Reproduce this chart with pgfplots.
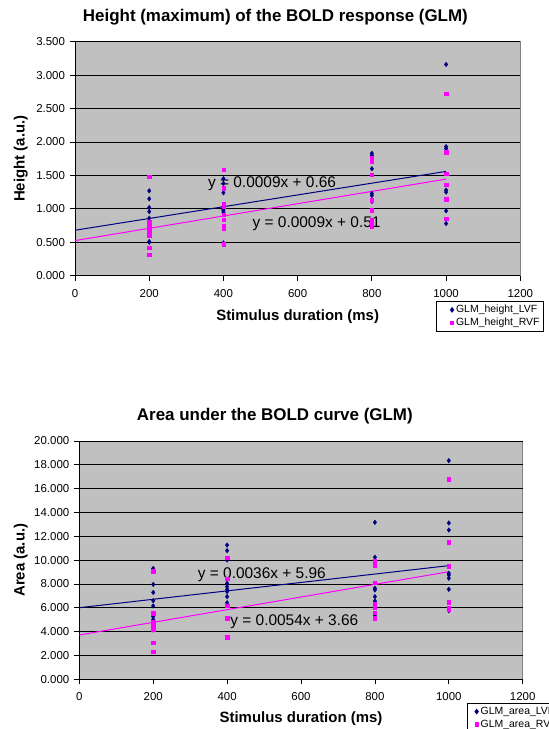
\documentclass[border=0pt]{standalone}
\usepackage{pgfplots}
\pgfplotsset{compat=1.18}
\usepackage{fontspec}
\setmainfont{Liberation Sans}
\definecolor{xlnavy}{RGB}{0,0,128}
\definecolor{xlmag}{RGB}{255,0,255}
\definecolor{xlgray}{RGB}{192,192,192}
\definecolor{xlborder}{RGB}{128,128,128}

\pgfplotsset{xlstyle/.style={
  scale only axis,
  axis background/.style={fill=xlgray, draw=xlborder, line width=0.9bp},
  axis x line*=bottom, axis y line*=left,
  axis line style={black, line width=0.8bp, -},
  every outer x axis line/.append style={-},
  every outer y axis line/.append style={-},
  xmin=0, xmax=1200, xtick={0,200,...,1200},
  tick align=outside, major tick length=5bp, tick style={black, line width=0.8bp},
  ymajorgrids, grid style={black, line width=0.8bp},
  /pgf/number format/assume math mode=true,
  ticklabel style={font=\fontsize{11.5}{13}\selectfont},
  xticklabel style={/pgf/number format/set thousands separator={}, yshift=-5bp},
  yticklabel style={/pgf/number format/fixed, /pgf/number format/fixed zerofill, /pgf/number format/precision=3, xshift=-1.5bp},
  title style={font=\fontsize{17}{20}\selectfont\bfseries, anchor=center, yshift=0pt},
  every axis y label/.style={rotate=90, anchor=center, font=\fontsize{15}{18}\selectfont\bfseries},
  every axis x label/.style={anchor=center, font=\fontsize{15}{18}\selectfont\bfseries},
  legend style={font=\fontsize{10.5}{12}\selectfont, draw=black, fill=white, line width=0.8bp, inner sep=1.5bp, row sep=0bp, anchor=north west},
  legend cell align=left,
  clip=false,
}}

\pgfplotstableread{
x y
200 1.27
200 1.15
200 1.02
200 0.96
200 0.86
200 0.79
200 0.70
200 0.51
200 0.50
400 1.45
400 1.38
400 1.24
400 1.03
400 0.99
400 0.97
400 0.95
400 0.49
800 1.83
800 1.80
800 1.60
800 1.23
800 1.20
800 1.11
800 0.98
800 0.83
800 0.75
1000 3.16
1000 1.93
1000 1.90
1000 1.28
1000 1.25
1000 0.97
1000 0.78
}\heightLVF

\pgfplotstableread{
x y
200 1.48
200 0.80
200 0.77
200 0.72
200 0.67
200 0.63
200 0.60
200 0.42
200 0.31
400 1.59
400 1.31
400 1.08
400 1.04
400 0.91
400 0.84
400 0.75
400 0.71
400 0.47
800 1.76
800 1.71
800 1.51
800 1.13
800 0.98
800 0.83
800 0.78
800 0.74
1000 2.72
1000 1.85
1000 1.53
1000 1.36
1000 1.15
1000 1.14
1000 0.85
}\heightRVF

\pgfplotstableread{
x y
200 9.30
200 7.96
200 7.29
200 6.60
200 6.16
200 5.25
200 5.00
200 4.60
200 4.14
400 11.27
400 10.80
400 10.01
400 8.06
400 7.78
400 7.55
400 7.36
400 6.94
400 6.43
800 13.17
800 10.24
800 9.68
800 7.64
800 7.50
800 6.94
800 6.57
800 6.10
800 5.31
1000 18.35
1000 13.12
1000 12.53
1000 8.90
1000 8.75
1000 8.48
1000 7.55
1000 5.76
}\areaLVF

\pgfplotstableread{
x y
200 9.07
200 5.54
200 4.80
200 4.42
200 4.18
200 3.08
200 2.30
400 10.20
400 8.45
400 6.18
400 5.14
400 3.55
800 9.90
800 9.59
800 8.13
800 6.32
800 6.06
800 5.60
800 5.12
1000 16.78
1000 11.50
1000 9.50
1000 6.46
1000 6.00
1000 5.90
}\areaRVF

\begin{document}
\begin{tikzpicture}
\useasboundingbox (0,0) rectangle (549bp,-729bp);

% ---------- top chart ----------
\begin{axis}[xlstyle,
  at={(75bp,-275.7bp)}, anchor=south west,
  width=445.3bp, height=234bp,
  ymin=0, ymax=3.5, ytick={0,0.5,...,3.5},
  title={Height (maximum) of the BOLD response (GLM)},
  title style={at={(axis description cs:0.450,1.081)}},
  xlabel={Stimulus duration (ms)},
  xlabel style={at={(axis description cs:0.5,-0.175)}},
  ylabel={Height (a.u.)},
  ylabel style={at={(axis description cs:-0.122,0.5)}},
  legend style={at={(0.81,-0.110)}},
  legend image code/.code={\pgfpathrectangle{\pgfqpoint{-14.5bp}{-1bp}}{\pgfqpoint{16.5bp}{2bp}}\pgfusepath{discard}\draw[#1] plot coordinates {(0bp,0bp)};},
]
\addplot[only marks, mark=diamond*, mark size=2.3bp, color=xlnavy] table {\heightLVF};
\addlegendentry{GLM\_height\_LVF}
\addplot[only marks, mark=square*, mark size=1.7bp, color=xlmag] table {\heightRVF};
\addlegendentry{GLM\_height\_RVF}
\addplot[xlnavy, line width=1bp, forget plot] coordinates {(0,0.68) (1000,1.56)};
\addplot[xlmag, line width=1bp, forget plot] coordinates {(0,0.525) (1000,1.445)};
\node[font=\fontsize{15.5}{18}\selectfont] at (axis cs:531,1.381) {y = 0.0009x + 0.66};
\node[font=\fontsize{15.5}{18}\selectfont] at (axis cs:651,0.783) {y = 0.0009x + 0.51};
\end{axis}

% ---------- bottom chart ----------
\begin{axis}[xlstyle,
  at={(79.3bp,-679.3bp)}, anchor=south west,
  width=443.4bp, height=238.3bp,
  ymin=0, ymax=20, ytick={0,2,...,20},
  title={Area under the BOLD curve (GLM)},
  title style={at={(axis description cs:0.441,1.081)}},
  xlabel={Stimulus duration (ms)},
  xlabel style={at={(axis description cs:0.5,-0.1666)}},
  ylabel={Area (a.u.)},
  ylabel style={at={(axis description cs:-0.132,0.5)}},
  legend style={at={(0.875,-0.1007)}},
  legend image code/.code={\pgfpathrectangle{\pgfqpoint{-7.5bp}{-1bp}}{\pgfqpoint{9.5bp}{2bp}}\pgfusepath{discard}\draw[#1] plot coordinates {(0bp,0bp)};},
]
\addplot[only marks, mark=diamond*, mark size=2.3bp, color=xlnavy] table {\areaLVF};
\addlegendentry{GLM\_area\_LVF}
\addplot[only marks, mark=square*, mark size=1.7bp, color=xlmag] table {\areaRVF};
\addlegendentry{GLM\_area\_RVF}
\addplot[xlnavy, line width=1bp, forget plot] coordinates {(0,6.01) (1000,9.54)};
\addplot[xlmag, line width=1bp, forget plot] coordinates {(0,3.72) (1000,9.03)};
\node[font=\fontsize{15.5}{18}\selectfont] at (axis cs:494,8.75) {y = 0.0036x + 5.96};
\node[font=\fontsize{15.5}{18}\selectfont] at (axis cs:582,4.83) {y = 0.0054x + 3.66};
\end{axis}
\end{tikzpicture}
\end{document}
